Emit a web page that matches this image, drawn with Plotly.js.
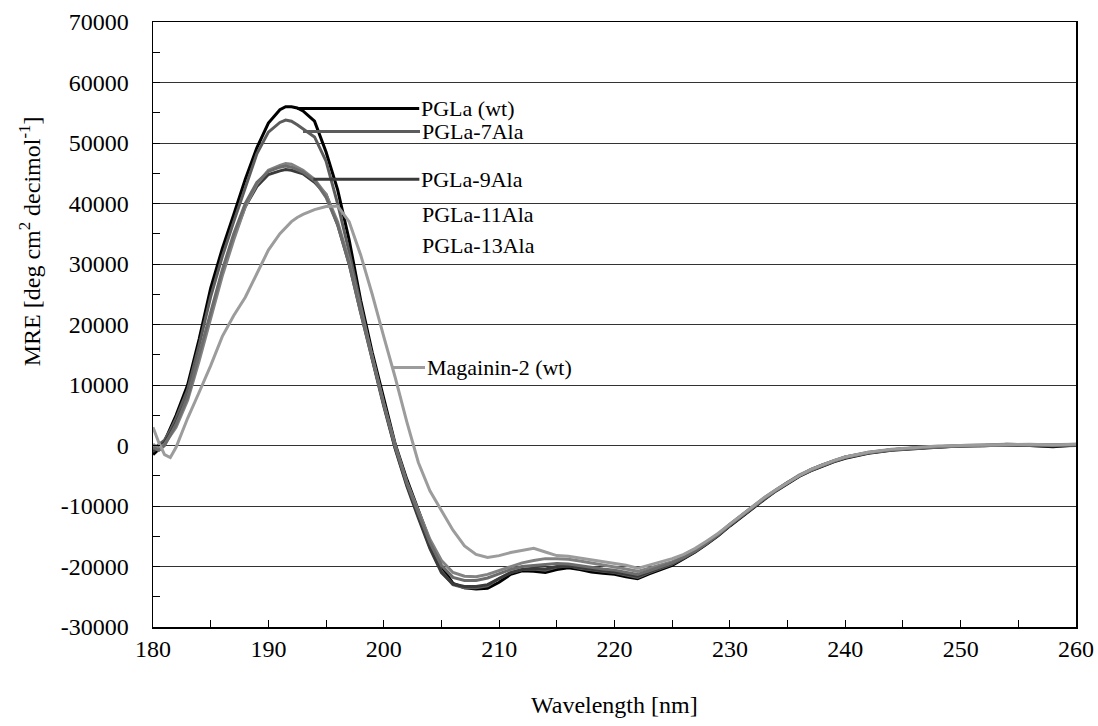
<!DOCTYPE html>
<html>
<head>
<meta charset="utf-8">
<script src="https://cdn.plot.ly/plotly-3.0.1.min.js"></script>
<style>html,body{margin:0;padding:0;background:#fff;}#chart{width:1098px;height:726px;}</style>
</head>
<body>
<div id="chart"></div>
<script>
// Wavelength [nm]
const wavelength = [180,180.5,181,181.5,182,183,184,185,186,187,188,189,190,191,191.5,192,192.5,193,194,195,196,197,198,199,200,201,202,203,204,205,206,207,208,209,210,211,212,213,214,215,216,217,218,219,220,221,222,223,224,225,226,227,228,229,230,231,232,233,234,235,236,237,238,239,240,242,244,246,248,250,252,254,256,258,260];

// MRE values per peptide
const pglaWt = [-1500,-600,700,2800,5000,10000,17600,26000,32500,38200,44000,49200,53300,55500,56000,56000,55800,55300,53600,48500,42300,34000,24000,15400,7700,200,-5600,-10800,-15800,-20000,-22800,-23500,-23700,-23600,-22600,-21300,-20700,-20800,-21000,-20500,-20200,-20500,-20900,-21100,-21300,-21700,-22000,-21200,-20500,-19800,-18700,-17600,-16300,-14900,-13300,-11800,-10300,-8900,-7500,-6300,-5100,-4200,-3400,-2700,-2100,-1300,-800,-500,-300,-100,0,100,0,-200,100];
const pgla7Ala = [-600,100,900,2500,4500,9200,16600,24600,31200,37000,42500,48200,51800,53400,53800,53600,53000,52300,51000,47000,40000,32000,23000,14500,6800,-500,-6500,-11800,-16800,-20800,-23000,-23500,-23500,-23200,-22000,-21000,-20500,-20400,-20600,-20100,-19900,-20300,-20600,-20800,-21000,-21400,-21800,-21000,-20300,-19600,-18600,-17500,-16200,-14800,-13200,-11700,-10200,-8800,-7500,-6200,-5000,-4100,-3300,-2600,-2000,-1200,-700,-400,-200,0,-100,200,100,0,0];
const pgla9Ala = [-1000,-300,500,2000,3800,8000,14500,21500,28500,34500,39500,42800,44800,45400,45600,45500,45200,44900,43500,41500,36500,30000,22000,14000,6500,-600,-6700,-12000,-17000,-21000,-22900,-23300,-23300,-23000,-22000,-21000,-20500,-20300,-20400,-20000,-19900,-20200,-20500,-20700,-20900,-21300,-21600,-20900,-20200,-19500,-18600,-17400,-16100,-14700,-13100,-11600,-10100,-8700,-7400,-6100,-5000,-4000,-3200,-2500,-1900,-1200,-700,-400,-200,-100,0,100,0,-100,0];
const pgla11Ala = [200,-500,200,1500,3000,7500,14000,21000,28000,34000,39500,43200,45500,46300,46600,46500,46000,45500,44000,41500,37000,30500,22500,14500,7000,0,-6000,-10800,-15500,-19000,-21000,-21600,-21700,-21300,-20700,-20000,-19400,-19000,-18700,-18700,-18800,-19100,-19400,-19700,-20000,-20400,-20800,-20300,-19800,-19200,-18400,-17300,-16000,-14600,-13000,-11500,-10000,-8600,-7300,-6100,-4900,-4000,-3200,-2500,-1900,-1100,-700,-400,-200,0,100,200,100,100,200];
const pgla13Ala = [-300,-800,0,1800,3500,8000,14800,22000,29000,35000,40000,43500,45300,46000,46200,46000,45600,45200,43800,41000,36500,30000,22000,14200,6800,-200,-6200,-11200,-16000,-19800,-21800,-22300,-22300,-21900,-21200,-20500,-20000,-19800,-19600,-19500,-19600,-19900,-20200,-20400,-20600,-21000,-21300,-20700,-20000,-19400,-18500,-17400,-16100,-14700,-13100,-11600,-10100,-8700,-7400,-6100,-5000,-4100,-3300,-2600,-2000,-1200,-700,-400,-200,-100,0,100,100,0,100];
const magainin2 = [3000,500,-1500,-2000,-300,4500,8800,13200,18000,21500,24500,28500,32300,35000,36000,37000,37700,38200,39000,39500,39600,37000,31500,25000,18000,11200,3900,-2800,-7500,-10800,-14000,-16600,-18000,-18500,-18200,-17700,-17300,-17000,-17600,-18200,-18300,-18600,-18900,-19200,-19500,-19800,-20300,-19800,-19200,-18700,-18000,-17000,-15800,-14500,-13000,-11500,-10000,-8600,-7300,-6100,-5000,-4000,-3200,-2500,-1900,-1100,-600,-300,-100,0,100,200,200,100,200];

const seriesNames = ['PGLa (wt)','PGLa-7Ala','PGLa-9Ala','PGLa-11Ala','PGLa-13Ala','Magainin-2 (wt)'];
const seriesValues = [pglaWt, pgla7Ala, pgla9Ala, pgla11Ala, pgla13Ala, magainin2];
const seriesColors = ['#000000','#5c5c5c','#3a3a3a','#828282','#6c6c6c','#9c9c9c'];

const yTickVals = [-30000,-20000,-10000,0,10000,20000,30000,40000,50000,60000,70000];
const yTickText = ['-30000','-20000','-10000','0','10000','20000','30000','40000','50000','60000','70000'];
const xTickVals = [180,190,200,210,220,230,240,250,260];
const xTickText = ['180','190','200','210','220','230','240','250','260'];

// label leader-line anchor points on curves (data coords)
const labelHeadX = [192.5, 193.0, 193.9, null, null, 200.8];
const labelHeadY = [55700, 51900, 44000, 38200, 33100, 12900];

const FONT = "'Liberation Serif', 'DejaVu Serif', 'Times New Roman', Times, serif";

const traces = seriesValues.map((v, i) => ({
  x: wavelength, y: v, type: 'scatter', mode: 'lines', name: seriesNames[i],
  line: {color: seriesColors[i], width: 3}, hoverinfo: 'skip'
}));

const annotations = [];
const textOffsets = [122, 117, 106, 0, 0, 32];
seriesNames.forEach((n, i) => {
  if (labelHeadX[i] !== null) {
    annotations.push({
      x: labelHeadX[i], y: labelHeadY[i], xref: 'x', yref: 'y',
      text: n, showarrow: true, arrowhead: 0, arrowwidth: 3, arrowcolor: seriesColors[i],
      ax: textOffsets[i], ay: 0, axref: 'pixel', ayref: 'pixel',
      xanchor: 'left', yanchor: 'middle', standoff: 0, startstandoff: 0,
      font: {family: FONT, size: 22, color: '#000'}
    });
  } else {
    annotations.push({
      x: 203.14, y: labelHeadY[i], xref: 'x', yref: 'y', text: n, showarrow: false,
      xanchor: 'left', yanchor: 'middle', font: {family: FONT, size: 22, color: '#000'}
    });
  }
});
annotations.push({
  x: -0.133, y: 0.638, xref: 'paper', yref: 'paper', textangle: -90,
  text: 'MRE [deg cm<sup>2</sup> decimol<sup>-1</sup>]', showarrow: false,
  xanchor: 'center', yanchor: 'middle', font: {family: FONT, size: 24, color: '#000'}
});
annotations.push({
  x: 0.5, y: -0.129, xref: 'paper', yref: 'paper',
  text: 'Wavelength [nm]', showarrow: false,
  xanchor: 'center', yanchor: 'middle', font: {family: FONT, size: 24, color: '#000'}
});

const layout = {
  width: 1098, height: 726,
  margin: {l: 153, r: 22, t: 22, b: 99},
  paper_bgcolor: '#fff', plot_bgcolor: '#fff',
  showlegend: false,
  font: {family: FONT, color: '#000'},
  xaxis: {
    range: [180, 260], tickmode: 'array', tickvals: xTickVals, ticktext: xTickText,
    showline: true, linecolor: '#000', linewidth: 1.5, mirror: true,
    ticks: 'inside', ticklen: 7, tickcolor: '#000', tickwidth: 1,
    minor: {tickmode: 'linear', tick0: 180, dtick: 5, ticks: 'inside', ticklen: 7, tickcolor: '#000'},
    showgrid: false, zeroline: false,
    tickfont: {family: FONT, size: 24, color: '#000'}, ticklabelstandoff: 0
  },
  yaxis: {
    range: [-30000, 70000], tickmode: 'array', tickvals: yTickVals, ticktext: yTickText,
    showline: true, linecolor: '#000', linewidth: 1.5, mirror: true,
    ticks: 'inside', ticklen: 7, tickcolor: '#000', tickwidth: 1,
    minor: {tickmode: 'linear', tick0: -30000, dtick: 5000, ticks: 'inside', ticklen: 7, tickcolor: '#000'},
    showgrid: true, gridcolor: '#333', gridwidth: 1, zeroline: false,
    tickfont: {family: FONT, size: 24, color: '#000'}, ticklabelstandoff: 18
  },
  annotations: annotations
};

Plotly.newPlot('chart', traces, layout, {displayModeBar: false, staticPlot: true});
</script>
</body>
</html>
